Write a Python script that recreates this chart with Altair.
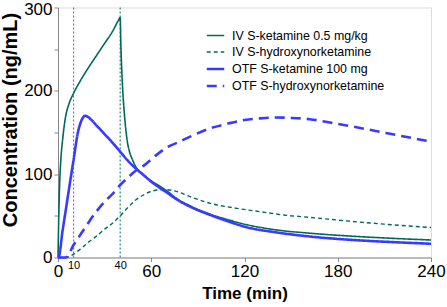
import altair as alt
import pandas as pd

SERIES = ["IV S-ketamine 0.5 mg/kg", "IV S-hydroxynorketamine",
          "OTF S-ketamine 100 mg", "OTF S-hydroxynorketamine"]
COLORS = ["#00695C", "#00695C", "#3A3AFF", "#3A3AFF"]
DASHES = [[1, 0], [4, 3], [1, 0], [10, 6]]
WIDTHS = [1.6, 1.4, 2.6, 2.6]

IV_KET_T = [0, 0.5, 1, 2, 3, 4, 5, 7, 10, 15, 20, 25, 30, 35, 39, 40, 40.5, 41, 41.5, 42, 42.5,
            43.5, 44.7, 46, 48, 50, 55, 60, 66, 70, 77, 85, 98, 110, 120, 141, 163, 190, 215, 240]
IV_KET_C = [0, 50, 85, 122, 142, 158, 170, 184, 197, 214, 229, 243, 257, 271, 285, 288, 252, 226,
            206, 190, 177, 156, 138, 127, 117, 109, 99, 92, 85, 80, 70, 62, 52, 45, 40, 33, 29, 25.5, 23, 21]

IV_HNK_T = [0, 5, 10, 15, 20, 25, 30, 35, 40, 45, 50, 55, 61, 68, 75, 85, 98, 115, 130, 145,
            163, 185, 210, 240]
IV_HNK_C = [0, 0, 4, 11, 19, 26, 34, 41, 50, 60, 69, 75, 80, 81.5, 80, 73, 65, 59, 55, 51,
            48, 44, 40, 36]

OTF_KET_T = [0, 0.3, 3, 5, 7.3, 10, 12.8, 15, 16.5, 17.6, 19, 21, 25, 30, 33.5, 40, 45, 50, 55,
             60, 66, 70, 77, 85, 98, 110, 120, 141, 163, 190, 215, 240]
OTF_KET_C = [0, 0, 33, 57, 85, 117, 150, 164, 169, 170, 169, 166, 158, 148, 141, 127, 116, 107,
             99, 91, 83, 78, 69, 61, 51, 43, 37, 30, 25, 21, 18.5, 16.5]

OTF_HNK_T = [0, 5, 10, 15, 20, 25, 31, 35, 40, 45, 50, 55, 62, 70, 77, 85, 98, 110, 120, 130,
             140, 150, 162, 175, 190, 212, 240]
OTF_HNK_C = [0, 0, 15, 29, 43, 56, 69, 76, 87, 96, 104, 110, 121, 132, 138, 145, 155, 161, 165,
             167, 168, 167.5, 166, 162, 157, 149, 139]

MARK_T = [10, 40]
MARK_COLORS = ["#6F6FFF", "#1F8A7E"]

X_TICKS = [0, 10, 40, 60, 120, 180, 240]
Y_TICKS = [0, 50, 100, 150, 200, 250, 300]

rows = []
for name, ts, cs in zip(SERIES, [IV_KET_T, IV_HNK_T, OTF_KET_T, OTF_HNK_T],
                        [IV_KET_C, IV_HNK_C, OTF_KET_C, OTF_HNK_C]):
    for t, c in zip(ts, cs):
        rows.append({"series": name, "t": t, "c": c})
df = pd.DataFrame(rows)

FONT = "Liberation Sans"
small = "datum.value == 10 || datum.value == 40"

x_enc = alt.X("t:Q", scale=alt.Scale(domain=[0, 240], nice=False),
              axis=alt.Axis(values=X_TICKS, title="Time (min)", grid=False,
                            labelFontSize={"condition": {"test": small, "value": 11}, "value": 17},
                            tickSize={"condition": {"test": small, "value": 0}, "value": 4},
                            labelFlush=False, labelOverlap=False, labelPadding=2,
                            titleFontSize=17, titlePadding=6))
y_enc = alt.Y("c:Q", scale=alt.Scale(domain=[0, 300], nice=False),
              axis=alt.Axis(values=Y_TICKS, title="Concentration (ng/mL)", grid=False,
                            labelExpr="datum.value % 100 == 0 ? datum.label : ''",
                            labelFontSize=17, tickSize=4, labelPadding=2,
                            labelOffset={"condition": {"test": "datum.value == 300", "value": 1.5},
                                         "value": 0},
                            labelFlush=False, labelOverlap=False,
                            titleFontSize=20, titleX=-38, titleY=112))

rule_layers = []
for t, col in zip(MARK_T, MARK_COLORS):
    rdf = pd.DataFrame({"t": [t], "y0": [0], "y1": [300]})
    rule_layers.append(
        alt.Chart(rdf).mark_rule(strokeDash=[2, 2], strokeWidth=1.2, color=col).encode(
            x=x_enc, y=alt.Y("y0:Q", scale=alt.Scale(domain=[0, 300], nice=False)), y2="y1:Q"
        )
    )

legend = alt.Legend(title=None, orient="none", legendX=147, legendY=18,
                    symbolType="stroke", symbolSize=306, labelFontSize=12.4,
                    labelFont=FONT, labelColor="black", labelOffset=6, rowPadding=0,
                    padding=0)

lines = alt.Chart(df).mark_line(interpolate="monotone").encode(
    x=x_enc,
    y=y_enc,
    color=alt.Color("series:N", scale=alt.Scale(domain=SERIES, range=COLORS), legend=legend),
    strokeDash=alt.StrokeDash("series:N", scale=alt.Scale(domain=SERIES, range=DASHES), legend=legend),
    strokeWidth=alt.StrokeWidth("series:N", scale=alt.Scale(type="ordinal", domain=SERIES, range=WIDTHS),
                                legend=legend),
)

chart = alt.layer(*rule_layers, lines).properties(
    width=373, height=250,
    autosize=alt.AutoSizeParams(type="none"),
    padding={"left": 58, "top": 7.5, "right": 16, "bottom": 49.5},
).configure_axis(
    domainColor="black", domainWidth=2, tickColor="black", tickWidth=2,
    labelFont=FONT, labelFontWeight="bold", labelColor="black",
    titleFont=FONT, titleFontWeight="bold", titleColor="black",
).configure_view(stroke=None).configure(background="white")

chart.save("out.html", embed_options={"renderer": "svg", "actions": False})
